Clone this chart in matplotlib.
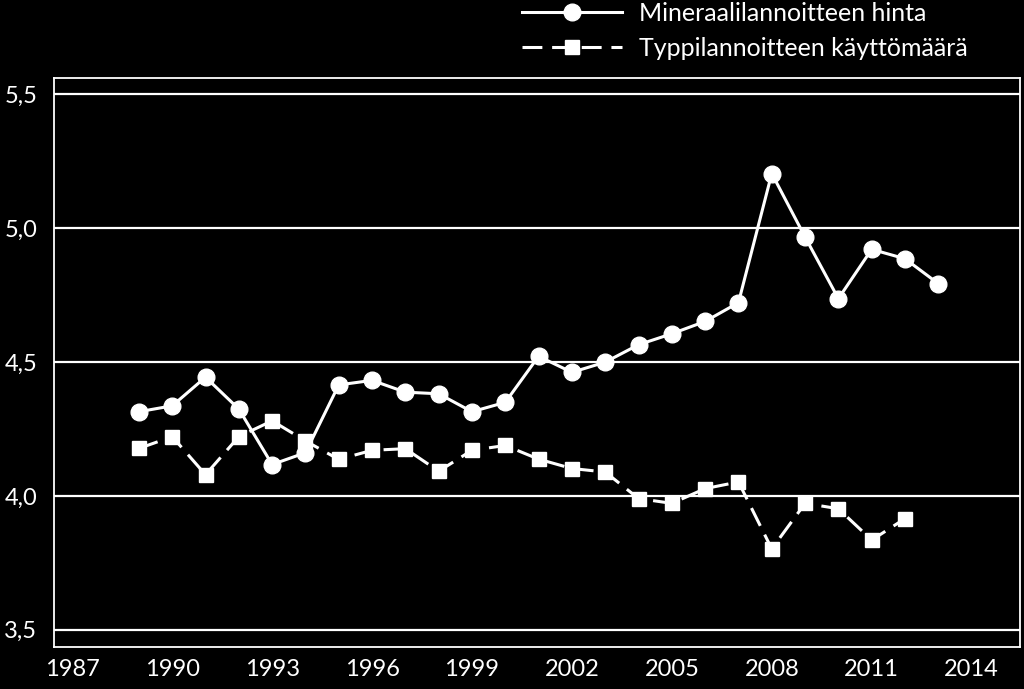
import matplotlib
matplotlib.use("Agg")
import matplotlib.pyplot as plt

# values
price_years = list(range(1989, 2014))
price = [4.314, 4.336, 4.443, 4.324, 4.117, 4.161, 4.414, 4.431, 4.387, 4.381,
         4.314, 4.349, 4.521, 4.461, 4.499, 4.564, 4.605, 4.651, 4.721, 5.203,
         4.966, 4.736, 4.920, 4.885, 4.792]

nitrogen_years = list(range(1989, 2013))
nitrogen = [4.177, 4.221, 4.079, 4.221, 4.280, 4.205, 4.136, 4.170, 4.176, 4.092,
            4.170, 4.188, 4.137, 4.102, 4.089, 3.990, 3.972, 4.027, 4.052, 3.802,
            3.972, 3.952, 3.835, 3.915]

x_ticks = [1987, 1990, 1993, 1996, 1999, 2002, 2005, 2008, 2011, 2014]
y_ticks = [3.5, 4.0, 4.5, 5.0, 5.5]
y_labels = ["3,5", "4,0", "4,5", "5,0", "5,5"]

plt.rcParams['font.family'] = ['Lato', 'DejaVu Sans']

fig = plt.figure(figsize=(10.24, 6.89), dpi=100, facecolor="black")
ax = fig.add_axes([0.0527, 0.061, 0.9433, 0.826])
ax.set_facecolor("black")

# horizontal grid lines
for v in y_ticks:
    ax.axhline(v, color="white", linewidth=1.6, zorder=1)

ax.plot(price_years, price, color="white", linewidth=2.2, marker="o",
        markersize=12, label="Mineraalilannoitteen hinta", zorder=3)
ax.plot(nitrogen_years, nitrogen, color="white", linewidth=2.2, marker="s",
        markersize=10, dashes=(6.5, 3.2), label="Typpilannoitteen käyttömäärä", zorder=3)

ax.set_xlim(1986.45, 2015.45)
ax.set_ylim(3.436, 5.56)
ax.set_xticks(x_ticks)
ax.set_xticklabels([str(t) for t in x_ticks])
ax.set_yticks(y_ticks)
ax.set_yticklabels(y_labels)
ax.tick_params(axis="both", length=0, colors="white", labelsize=17)
ax.tick_params(axis="x", pad=9)
ax.tick_params(axis="y", pad=12)

for s in ax.spines.values():
    s.set_color("white")
    s.set_linewidth(1.3)

leg = ax.legend(loc="lower right", bbox_to_anchor=(0.962, 1.005), frameon=False,
                fontsize=18, handlelength=4.0, labelcolor="white",
                borderaxespad=0.2, labelspacing=0.49, handletextpad=0.7)

fig.savefig("out.png", dpi=100, facecolor="black")
